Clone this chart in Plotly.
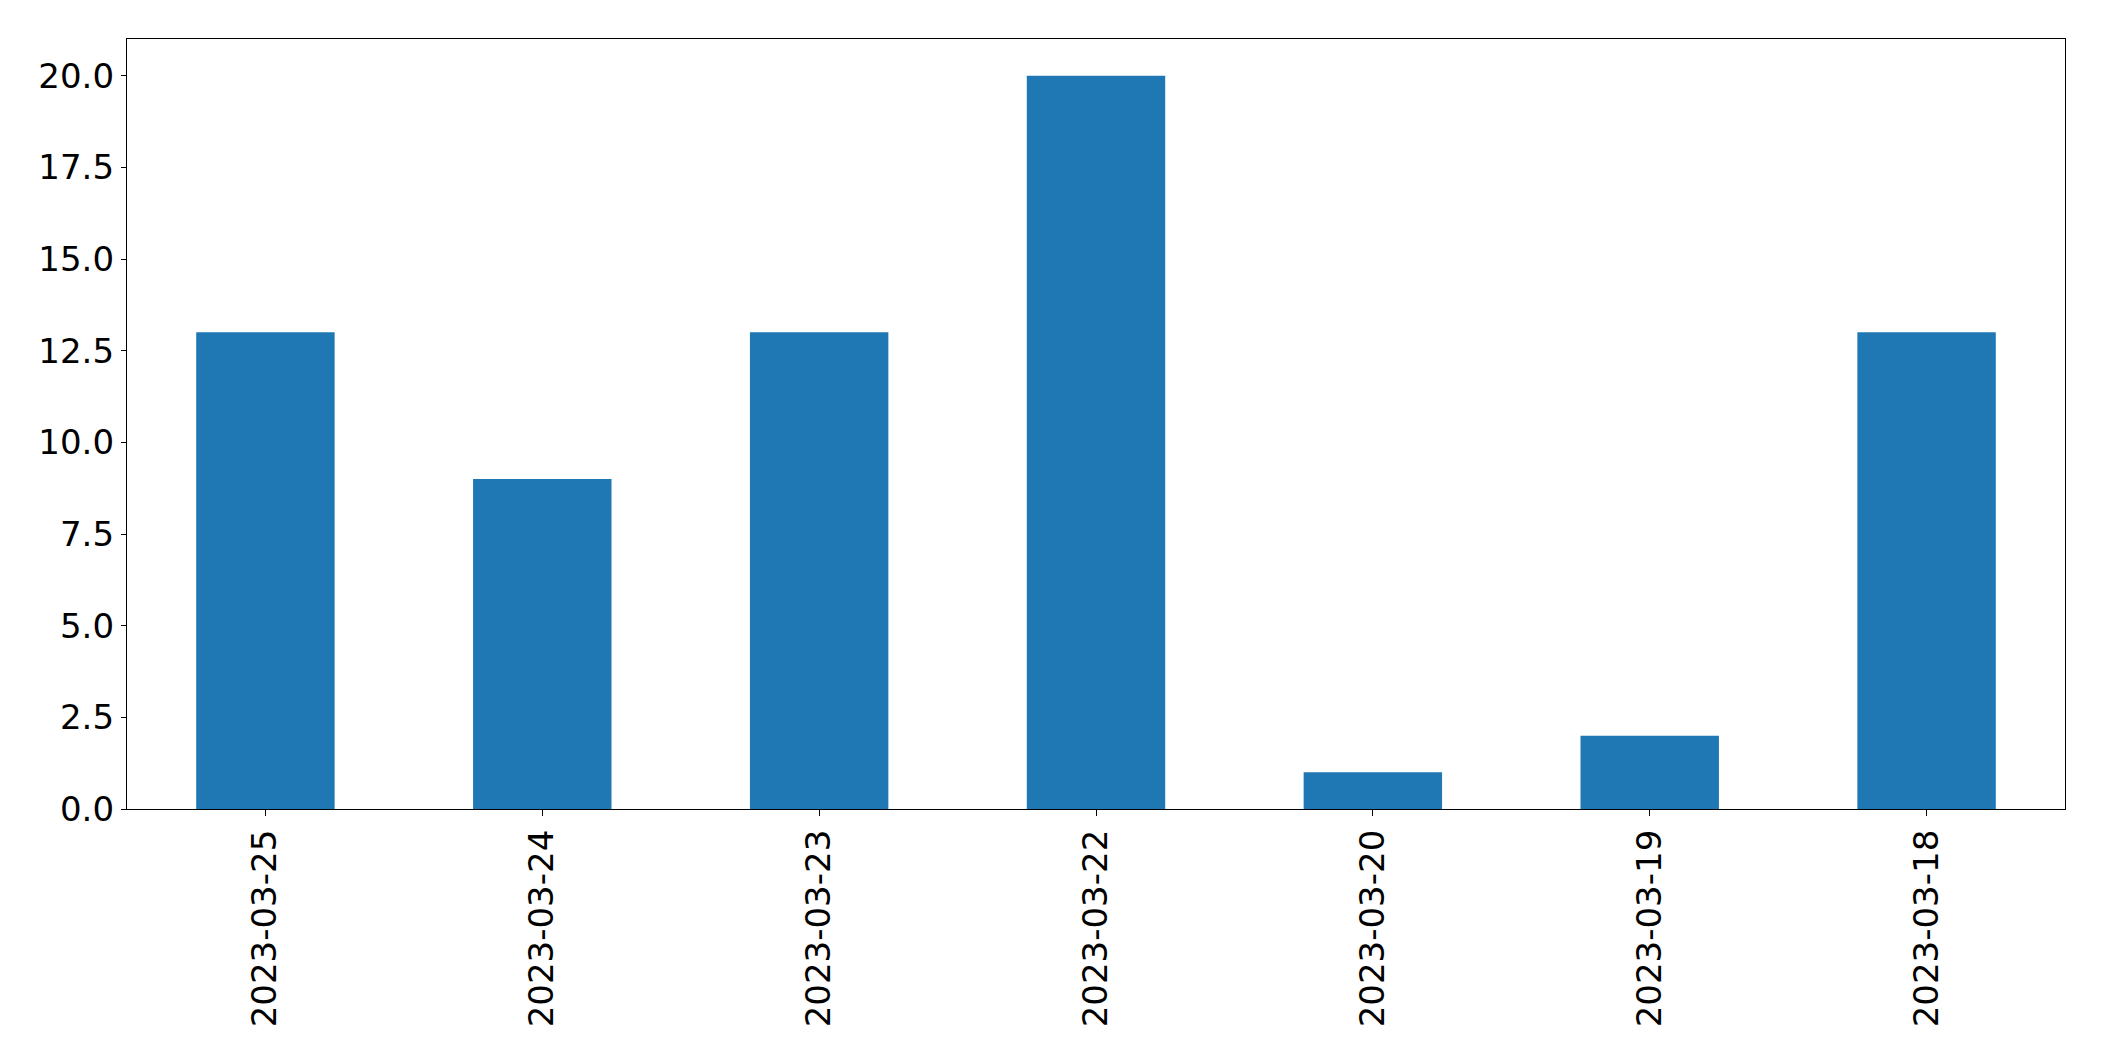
import plotly.graph_objects as go

dates = ["2023-03-25", "2023-03-24", "2023-03-23", "2023-03-22", "2023-03-20", "2023-03-19", "2023-03-18"]
counts = [13, 9, 13, 20, 1, 2, 13]
y_ticks = [0, 2.5, 5, 7.5, 10, 12.5, 15, 17.5, 20]
y_tick_labels = ["0.0", "2.5", "5.0", "7.5", "10.0", "12.5", "15.0", "17.5", "20.0"]

fig = go.Figure(go.Bar(x=dates, y=counts, marker=dict(color="#1f77b4", line=dict(width=0)), width=0.5))

fig.update_layout(
    width=2088, height=1045,
    margin=dict(l=119, r=31, t=31, b=244),
    plot_bgcolor="white", paper_bgcolor="white",
    font=dict(family="DejaVu Sans", size=34, color="black"),
    showlegend=False,
)
fig.update_xaxes(
    type="category", range=[-0.5, 6.5], tickangle=-90,
    showline=True, linecolor="black", linewidth=1.3, mirror=True,
    ticks="outside", ticklen=6, tickcolor="black", showgrid=False,
)
fig.update_yaxes(
    range=[0, 21], tickvals=y_ticks, ticktext=y_tick_labels,
    showline=True, linecolor="black", linewidth=1.3, mirror=True,
    ticks="outside", ticklen=5, tickcolor="black", showgrid=False, zeroline=False,
)
fig.write_html("out.html")
